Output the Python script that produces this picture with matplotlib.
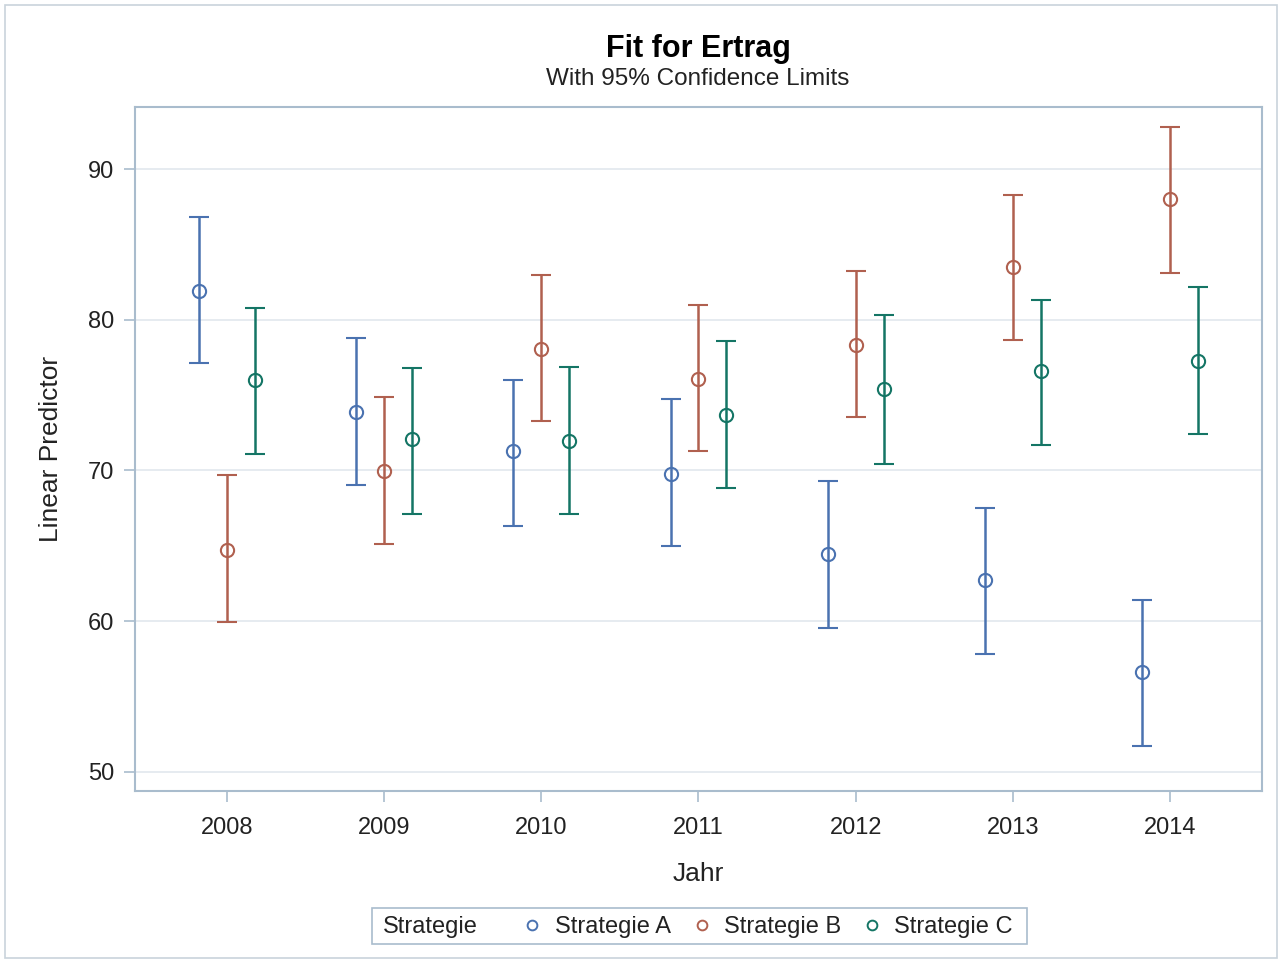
import numpy as np
import matplotlib
matplotlib.use('Agg')
import matplotlib.pyplot as plt
from matplotlib.lines import Line2D
from matplotlib.patches import Rectangle

plt.rcParams['font.family'] = ['Liberation Sans', 'DejaVu Sans']

# Estimates and 95% confidence limits per year and strategy
years = [2008, 2009, 2010, 2011, 2012, 2013, 2014]
strategies = ['Strategie A', 'Strategie B', 'Strategie C']

a_est = [81.9, 73.9, 71.26, 69.78, 64.46, 62.73, 56.6]
a_lo = [77.1, 69.0, 66.3, 64.97, 59.55, 57.82, 51.73]
a_hi = [86.83, 78.8, 76.0, 74.72, 69.27, 67.52, 61.41]

b_est = [64.73, 69.93, 78.04, 76.05, 78.31, 83.51, 88.0]
b_lo = [59.95, 65.13, 73.26, 71.26, 73.54, 78.64, 83.11]
b_hi = [69.67, 74.87, 82.98, 80.98, 83.22, 88.27, 92.81]

c_est = [76.0, 72.06, 71.93, 73.65, 75.43, 76.6, 77.24]
c_lo = [71.1, 67.1, 67.1, 68.83, 70.44, 71.66, 72.44]
c_hi = [80.8, 76.8, 76.87, 78.59, 80.3, 81.34, 82.14]

series = [(a_est, a_lo, a_hi), (b_est, b_lo, b_hi), (c_est, c_lo, c_hi)]
colors = ['#4a72b0', '#b0604f', '#147565']
offsets = [-0.177, 0.0, 0.177]

frame_col = '#a9bccd'
grid_col = '#e2e8ee'
text_col = '#222222'

fig = plt.figure(figsize=(12.82, 9.63), dpi=100)
ax = fig.add_axes([0.1053, 0.1786, 0.8791, 0.7106])

x = np.array(years, dtype=float)
for (est, lo, hi), col, off in zip(series, colors, offsets):
    est = np.array(est)
    err = [est - np.array(lo), np.array(hi) - est]
    ax.errorbar(x + off, est, yerr=err, fmt='o', color=col, mfc='none',
                mec=col, ms=9.5, mew=1.5, elinewidth=1.8, capsize=7.5,
                capthick=1.8, zorder=3)

ax.set_xlim(2007.415, 2014.585)
ax.set_ylim(48.72, 94.14)
ax.set_xticks(years)
ax.set_yticks([50, 60, 70, 80, 90])
ax.grid(axis='y', color=grid_col, lw=1.2)
ax.set_axisbelow(True)

for s in ax.spines.values():
    s.set_color(frame_col)
    s.set_linewidth(1.5)
ax.tick_params(colors=frame_col, labelcolor=text_col, labelsize=17,
               length=8, width=1.2, pad=7)
ax.tick_params(axis='x', pad=11)

ax.set_xlabel('Jahr', fontsize=19, color=text_col, labelpad=16)
ax.set_ylabel('Linear Predictor', fontsize=19, color=text_col, labelpad=18)

fig.text(0.5445, 0.949, 'Fit for Ertrag', ha='center', va='center',
         fontsize=22, fontweight='bold', color='black')
fig.text(0.5445, 0.918, 'With 95% Confidence Limits', ha='center',
         va='center', fontsize=17.5, color=text_col)

# Legend with inline title
handles = [Line2D([], [], marker='o', ls='none', mfc='none', mec=c,
                  ms=7, mew=1.4) for c in colors]
fig.legend(handles, strategies, loc='center', bbox_to_anchor=(0.599, 0.0374),
           ncol=3, frameon=False, fontsize=17, handlelength=0.8,
           handletextpad=0.55, columnspacing=0.9, labelcolor=text_col)
fig.text(383 / 1282, 1 - 927 / 963, 'Strategie', ha='left', va='center',
         fontsize=17, color=text_col)
fig.patches.append(Rectangle((372 / 1282, 1 - 944 / 963), 655 / 1282,
                             36 / 963, transform=fig.transFigure,
                             fill=False, ec=frame_col, lw=1.2))

# Outer border
fig.patches.append(Rectangle((5 / 1282, 5 / 963), 1272 / 1282, 953 / 963,
                             transform=fig.transFigure, fill=False,
                             ec='#c9d3db', lw=1.2))

fig.savefig('out.png', dpi=100)
